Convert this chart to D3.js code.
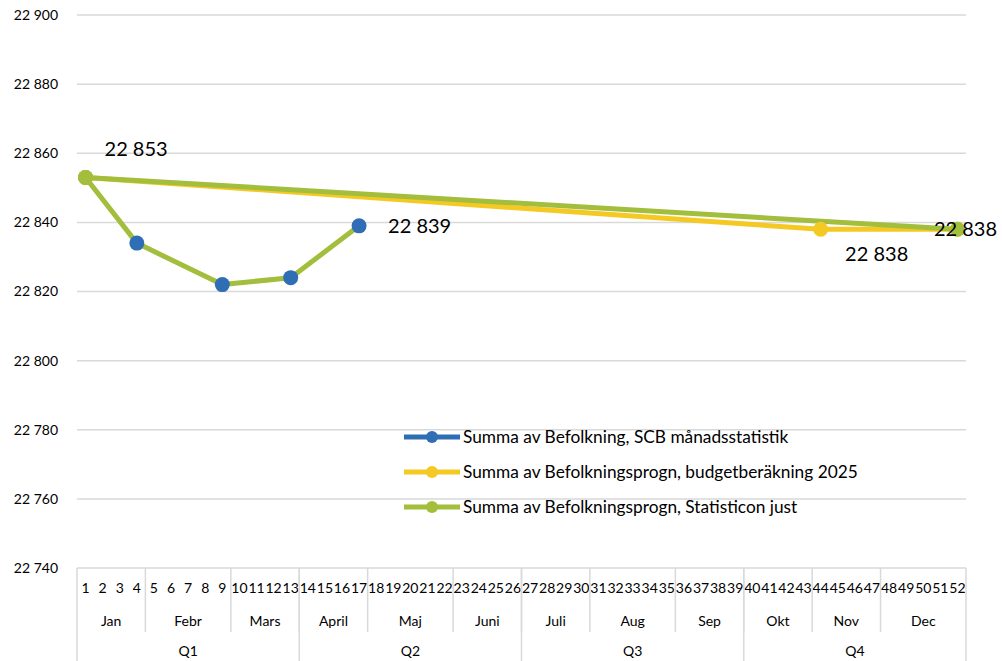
<!DOCTYPE html>
<html>
<head>
<meta charset="utf-8">
<script src="https://cdn.jsdelivr.net/npm/d3@7"></script>
<style>
  body { margin: 0; background: #fff; }
  svg { font-family: Lato, "Open Sans", sans-serif; }
</style>
</head>
<body>
<svg id="chart" width="1002" height="661"></svg>
<script>
// week categories (x axis, level 1)
const weeks = [1, 2, 3, 4, 5, 6, 7, 8, 9, 10, 11, 12, 13, 14, 15, 16, 17, 18, 19, 20, 21, 22, 23, 24, 25, 26,
    27, 28, 29, 30, 31, 32, 33, 34, 35, 36, 37, 38, 39, 40, 41, 42, 43, 44, 45, 46, 47, 48, 49, 50, 51, 52];

// month groups (level 2): first and last week
const months = [
    { name: 'Jan', from: 1, to: 4 },
    { name: 'Febr', from: 5, to: 9 },
    { name: 'Mars', from: 10, to: 13 },
    { name: 'April', from: 14, to: 17 },
    { name: 'Maj', from: 18, to: 22 },
    { name: 'Juni', from: 23, to: 26 },
    { name: 'Juli', from: 27, to: 30 },
    { name: 'Aug', from: 31, to: 35 },
    { name: 'Sep', from: 36, to: 39 },
    { name: 'Okt', from: 40, to: 43 },
    { name: 'Nov', from: 44, to: 47 },
    { name: 'Dec', from: 48, to: 52 }
];

// quarter groups (level 3)
const quarters = [
    { name: 'Q1', from: 1, to: 13 },
    { name: 'Q2', from: 14, to: 26 },
    { name: 'Q3', from: 27, to: 39 },
    { name: 'Q4', from: 40, to: 52 }
];

const yTicks = [22740, 22760, 22780, 22800, 22820, 22840, 22860, 22880, 22900];

// series
const scbValues = [
    { week: 1, value: 22853 },
    { week: 4, value: 22834 },
    { week: 9, value: 22822 },
    { week: 13, value: 22824 },
    { week: 17, value: 22839 }
];
const budgetValues = [
    { week: 1, value: 22853 },
    { week: 44, value: 22838 },
    { week: 52, value: 22838 }
];
const statisticonValues = [
    { week: 1, value: 22853 },
    { week: 52, value: 22838 }
];

const BLUE = '#2F6EB5',
    YELLOW = '#F5C924',
    GREEN = '#A2BE3C',
    GRID = '#D9D9D9';

const svg = d3.select('#chart');

const plotLeft = 77, plotRight = 966, plotTop = 15, plotBottom = 568;

const x = d3.scaleBand()
    .domain(weeks)
    .range([plotLeft, plotRight])
    .paddingInner(0)
    .paddingOuter(0);

const y = d3.scaleLinear()
    .domain([22740, 22900])
    .range([plotBottom, plotTop]);

const cx = w => x(w) + x.bandwidth() / 2;
const fmt = v => d3.format(',')(v).replace(',', ' ');

// gridlines
svg.append('g')
    .selectAll('line')
    .data(yTicks)
    .join('line')
    .attr('x1', plotLeft)
    .attr('x2', plotRight)
    .attr('y1', d => y(d))
    .attr('y2', d => y(d))
    .attr('stroke', GRID)
    .attr('stroke-width', 1.5);

// y axis labels
const yAxis = d3.axisLeft(y)
    .tickValues(yTicks)
    .tickSize(0)
    .tickPadding(0)
    .tickFormat(fmt);

svg.append('g')
    .attr('transform', `translate(58,0)`)
    .call(yAxis)
    .call(g => g.select('.domain').remove())
    .selectAll('text')
    .attr('font-size', 14)
    .attr('fill', '#000')
    .attr('font-family', 'Lato, sans-serif');

// category axis: week row
const xAxis = d3.axisBottom(x).tickSize(0).tickPadding(0);

svg.append('g')
    .attr('transform', `translate(0,${plotBottom + 15})`)
    .call(xAxis)
    .call(g => g.select('.domain').remove())
    .selectAll('text')
    .attr('font-size', 14)
    .attr('fill', '#000')
    .attr('font-family', 'Lato, sans-serif');

const gx = svg.append('g');

// month separators and labels
gx.selectAll('line.month')
    .data(months.slice(1))
    .join('line')
    .attr('class', 'month')
    .attr('x1', d => x(d.from))
    .attr('x2', d => x(d.from))
    .attr('y1', plotBottom)
    .attr('y2', 632)
    .attr('stroke', GRID)
    .attr('stroke-width', 1.5);

gx.selectAll('text.month')
    .data(months)
    .join('text')
    .attr('class', 'month')
    .attr('x', d => (x(d.from) + x(d.to) + x.bandwidth()) / 2)
    .attr('y', 626)
    .attr('text-anchor', 'middle')
    .attr('font-size', 14)
    .text(d => d.name);

// quarter separators and labels
gx.selectAll('line.quarter')
    .data(quarters.concat([{ from: 53 }]))
    .join('line')
    .attr('class', 'quarter')
    .attr('x1', d => d.from === 53 ? plotRight : x(d.from))
    .attr('x2', d => d.from === 53 ? plotRight : x(d.from))
    .attr('y1', plotBottom)
    .attr('y2', 661)
    .attr('stroke', GRID)
    .attr('stroke-width', 1.5);

gx.selectAll('text.quarter')
    .data(quarters)
    .join('text')
    .attr('class', 'quarter')
    .attr('x', d => (x(d.from) + x(d.to) + x.bandwidth()) / 2)
    .attr('y', 656)
    .attr('text-anchor', 'middle')
    .attr('font-size', 14)
    .text(d => d.name);

// lines
const line = d3.line()
    .x(d => cx(d.week))
    .y(d => y(d.value));

const series = [
    { data: scbValues, stroke: GREEN, marker: BLUE },
    { data: budgetValues, stroke: YELLOW, marker: YELLOW },
    { data: statisticonValues, stroke: GREEN, marker: GREEN }
];

svg.append('g')
    .selectAll('path')
    .data(series)
    .join('path')
    .attr('d', d => line(d.data))
    .attr('fill', 'none')
    .attr('stroke', d => d.stroke)
    .attr('stroke-width', 5)
    .attr('stroke-linejoin', 'round');

const markers = svg.append('g');
series.forEach(s => {
    markers.selectAll(null)
        .data(s.data)
        .join('circle')
        .attr('cx', d => cx(d.week))
        .attr('cy', d => y(d.value))
        .attr('r', 7.5)
        .attr('fill', s.marker);
});

// data labels
const labels = [
    { week: 1, value: 22853, dx: 19, dy: -21, anchor: 'start' },
    { week: 17, value: 22839, dx: 29, dy: 7, anchor: 'start' },
    { week: 44, value: 22838, dx: 56, dy: 32, anchor: 'middle' },
    { week: 52, value: 22838, dx: 8, dy: 7, anchor: 'middle' }
];

svg.append('g')
    .selectAll('text')
    .data(labels)
    .join('text')
    .attr('x', d => cx(d.week) + d.dx)
    .attr('y', d => y(d.value) + d.dy)
    .attr('text-anchor', d => d.anchor)
    .attr('font-size', 20)
    .attr('fill', '#000')
    .text(d => fmt(d.value));

// legend
const legendItems = [
    { name: 'Summa av Befolkning, SCB månadsstatistik', color: BLUE },
    { name: 'Summa av Befolkningsprogn, budgetberäkning 2025', color: YELLOW },
    { name: 'Summa av Befolkningsprogn, Statisticon just', color: GREEN }
];

const legend = svg.append('g')
    .selectAll('g')
    .data(legendItems)
    .join('g')
    .attr('transform', (d, i) => `translate(404,${437 + i * 35})`);

legend.append('line')
    .attr('x1', 0)
    .attr('x2', 56)
    .attr('stroke', d => d.color)
    .attr('stroke-width', 5);

legend.append('circle')
    .attr('cx', 28)
    .attr('r', 6)
    .attr('fill', d => d.color);

legend.append('text')
    .attr('x', 59)
    .attr('y', 6)
    .attr('font-size', 17.3)
    .attr('fill', '#000')
    .text(d => d.name);
</script>
</body>
</html>
